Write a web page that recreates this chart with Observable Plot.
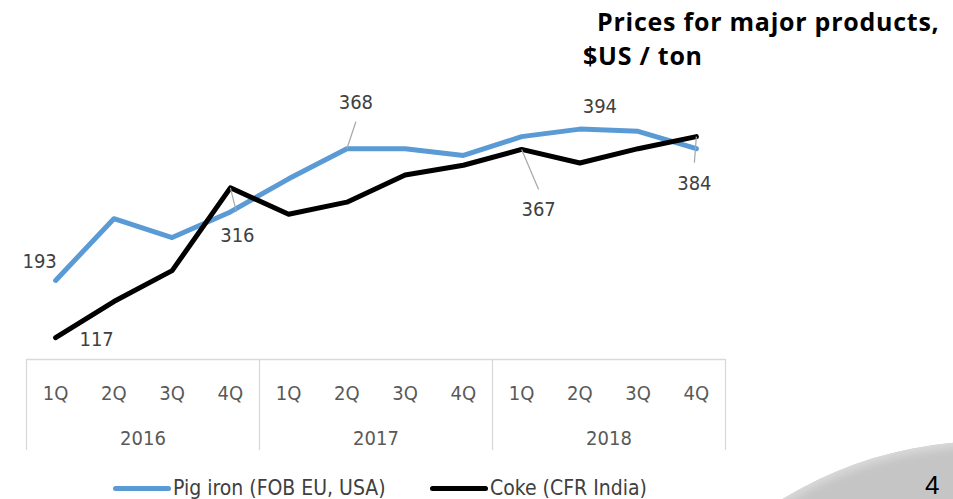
<!DOCTYPE html>
<html><head><meta charset="utf-8">
<script src="https://cdn.jsdelivr.net/npm/d3@7"></script>
<script src="https://cdn.jsdelivr.net/npm/@observablehq/plot@0.6"></script>
<style>
body{margin:0;background:#fff;}
#wrap{position:relative;width:953px;height:499px;overflow:hidden;font-family:'DejaVu Sans Condensed','DejaVu Sans',sans-serif;font-stretch:condensed;}
#deco{position:absolute;left:592px;top:441px;width:794px;height:794px;border-radius:50%;
  background-color:#c5c5c5;box-shadow:inset 0 0 8px 5px #dadada;}
#chart{position:absolute;left:0;top:0;}
.title{position:absolute;font-family:'Open Sans',sans-serif;font-stretch:normal;font-weight:bold;font-size:25px;letter-spacing:0.75px;color:#000;white-space:pre;line-height:1;}
#legend{position:absolute;left:0;top:476px;height:26px;width:700px;}
.lg{position:absolute;top:0;display:flex;align-items:center;font-size:21px;color:#404040;white-space:nowrap;}
.sw{width:58px;height:5px;border-radius:3px;margin-right:2px;}
#page{position:absolute;left:925px;top:470px;font-family:'Liberation Sans',sans-serif;font-stretch:normal;font-size:26px;color:#000;}
</style></head>
<body><div id="wrap">
<div id="deco"></div>
<div id="chart"></div>
<div class="title" id="t1" style="left:597px;top:9px;">Prices for major products,</div>
<div class="title" id="t2" style="left:583px;top:43px;">$US / ton</div>
<div id="legend"></div>
<div id="page">4</div>
</div>
<script>
const quarters = ["1Q","2Q","3Q","4Q"];
const years = ["2016","2017","2018"];
const pigIron = [193,275,250,284,328,368,368,359,384,394,391,368];
const coke = [117,165,206,316,281,297,333,346,367,349,368,384];
const seriesNames = ["Pig iron (FOB EU, USA)","Coke (CFR India)"];
const seriesColors = ["#5B9BD5","#000000"];
// labelled points: series index, period index
const labelPoints = [[0,0],[1,0],[1,3],[0,5],[0,9],[1,8],[1,11]];
// label text offsets (px) and leader-line ends (px), styling only
const labelDx = [-16,41,7,9,20,17,-2];
const labelDy = [-19,2,48,-46,-23,60,47];
const leaderEnd = [null,null,[6,24],[9,-27],null,[17,40],[-2,26]];

const seriesValues = [pigIron, coke];
const periods = years.flatMap(y => quarters.map(q => ({year:y, quarter:q})));
const rows = seriesValues.flatMap((vals, s) => vals.map((v, i) => ({s, i, v})));

const W = 953, H = 460, ML = 26, MR = 228, MT = 100, MB = 101;
const yDomain = [88, 432];
const xDomain = [-0.5, periods.length - 0.5];
const xk = (W - ML - MR) / (xDomain[1] - xDomain[0]);
const yk = (H - MB - MT) / (yDomain[1] - yDomain[0]);

const labels = labelPoints.map(([s, i], k) => ({s, i, v: seriesValues[s][i], k}));

const marks = [
  Plot.ruleY([yDomain[0]], {stroke: "#d9d9d9", strokeWidth: 1.3}),
  Plot.axisX({ticks: [-0.5, 3.5, 7.5, 11.5], tickSize: 91, tickFormat: () => "", stroke: "#d9d9d9", strokeWidth: 1.3, label: null}),
  Plot.axisX({ticks: d3.range(periods.length), tickSize: 0, tickPadding: 26, tickFormat: i => periods[i].quarter, fontSize: 20, fill: "#595959", label: null}),
  Plot.axisX({ticks: years.map((y, j) => j * 4 + 1.5), tickSize: 0, tickPadding: 71, tickFormat: t => years[Math.round((t - 1.5) / 4)], fontSize: 20, fill: "#595959", label: null}),
  Plot.line(rows.filter(d => d.s === 0), {x: "i", y: "v", stroke: seriesColors[0], strokeWidth: 5, strokeLinejoin: "round", strokeLinecap: "round"}),
  Plot.line(rows.filter(d => d.s === 1), {x: "i", y: "v", stroke: seriesColors[1], strokeWidth: 5, strokeLinejoin: "round", strokeLinecap: "round"}),
  Plot.link(labels.filter(d => leaderEnd[d.k]), {
    x1: "i", y1: "v",
    x2: d => d.i + leaderEnd[d.k][0] / xk,
    y2: d => d.v - leaderEnd[d.k][1] / yk,
    stroke: "#a6a6a6", strokeWidth: 1.2
  }),
  ...labels.map(d => Plot.text([d], {x: "i", y: "v", text: dd => String(dd.v), dx: labelDx[d.k], dy: labelDy[d.k], fontSize: 20, fill: "#404040"}))
];

const plot = Plot.plot({
  width: W, height: H,
  marginLeft: ML, marginRight: MR, marginTop: MT, marginBottom: MB,
  x: {type: "linear", domain: xDomain},
  y: {domain: yDomain, axis: null},
  style: {fontFamily: "'DejaVu Sans Condensed','DejaVu Sans',sans-serif", fontStretch: "condensed", fontSize: "20px", background: "transparent", overflow: "visible"},
  marks
});
document.getElementById("chart").appendChild(plot);

const legend = document.getElementById("legend");
const legendX = [113, 430];
seriesNames.forEach((name, s) => {
  const item = document.createElement("div");
  item.className = "lg";
  item.style.left = legendX[s] + "px";
  const sw = document.createElement("div");
  sw.className = "sw";
  sw.style.background = seriesColors[s];
  const tx = document.createElement("span");
  tx.textContent = name;
  item.appendChild(sw); item.appendChild(tx);
  legend.appendChild(item);
});
</script>
</body></html>
